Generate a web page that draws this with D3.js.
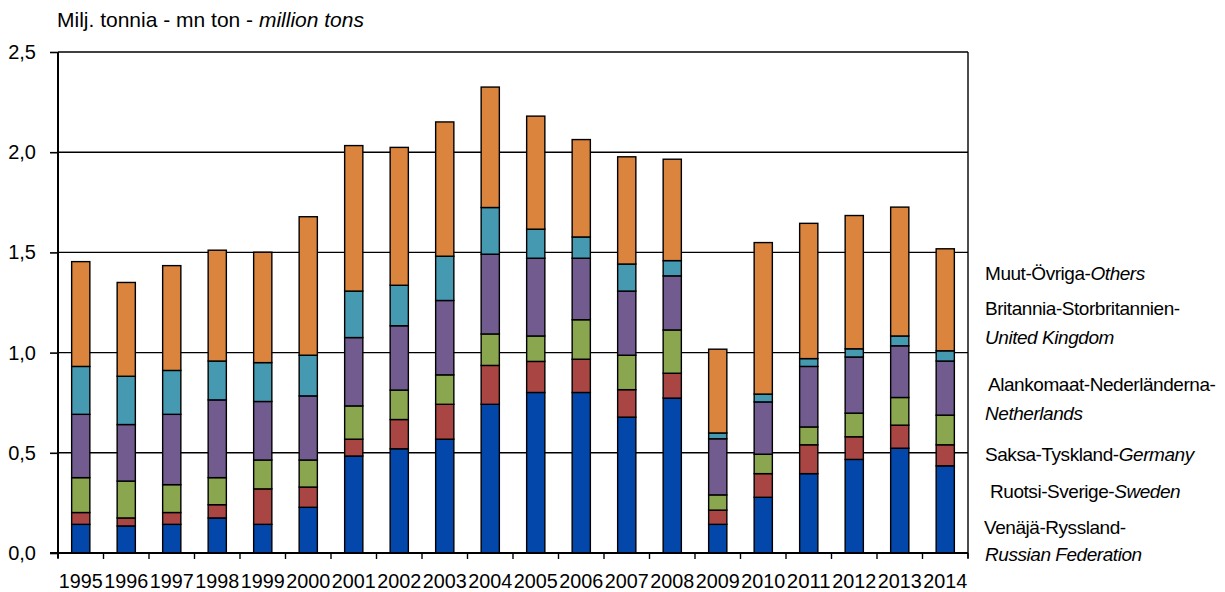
<!DOCTYPE html>
<html>
<head>
<meta charset="utf-8">
<script src="https://cdn.jsdelivr.net/npm/d3@7"></script>
<style>
  body { margin: 0; background: #fff; }
  svg text { font-family: "Liberation Sans", Arial, sans-serif; fill: #000; }
</style>
</head>
<body>
<script>
// data (million tons)
const years = ['1995','1996','1997','1998','1999','2000','2001','2002','2003','2004',
               '2005','2006','2007','2008','2009','2010','2011','2012','2013','2014']
const russia = [0.143,0.135,0.143,0.175,0.143,0.228,0.484,0.520,0.568,0.742,0.801,0.801,0.678,0.773,0.143,0.278,0.396,0.467,0.523,0.435]
const sweden = [0.059,0.040,0.059,0.066,0.177,0.101,0.084,0.146,0.174,0.194,0.155,0.166,0.137,0.124,0.071,0.118,0.144,0.113,0.115,0.105]
const germany = [0.174,0.184,0.139,0.135,0.144,0.135,0.166,0.147,0.147,0.157,0.127,0.197,0.172,0.216,0.076,0.097,0.089,0.118,0.138,0.148]
const netherlands = [0.316,0.282,0.351,0.388,0.292,0.320,0.341,0.321,0.371,0.398,0.388,0.307,0.320,0.270,0.280,0.261,0.302,0.280,0.258,0.270]
const uk = [0.239,0.241,0.219,0.194,0.194,0.203,0.232,0.202,0.221,0.233,0.145,0.106,0.135,0.076,0.029,0.039,0.039,0.041,0.049,0.051]
const others = [0.523,0.468,0.523,0.553,0.551,0.691,0.726,0.688,0.670,0.601,0.564,0.486,0.535,0.506,0.418,0.756,0.675,0.665,0.643,0.509]
const yTicks = [0, 0.5, 1.0, 1.5, 2.0, 2.5]

// stacking order bottom -> top
const keys = ['russia','sweden','germany','netherlands','uk','others']
const colors = ['#0447ab','#a94643','#8aa64e','#715b8f','#4599b0','#db843d']
const seriesData = {russia, sweden, germany, netherlands, uk, others}

// legend texts: [plain part, italic part] per line
const legendLabels = [
    ['Muut-Övriga-', 'Others'],
    ['Britannia-Storbritannien-', ''],
    ['', 'United Kingdom'],
    ['Alankomaat-Nederländerna-', ''],
    ['', 'Netherlands'],
    ['Saksa-Tyskland-', 'Germany'],
    ['Ruotsi-Sverige-', 'Sweden'],
    ['Venäjä-Ryssland-', ''],
    ['', 'Russian Federation']
]
const legendY = [280, 315, 344, 391, 420, 461, 498, 534, 561]
const legendX = [985, 985, 985, 988, 985, 985, 990, 984, 985]

const w = 1225
const h = 592
const m = {left: 58, right: 968, top: 52, bottom: 553}

const svg = d3.select('body')
    .append('svg')
    .attr('width', w)
    .attr('height', h)

const rows = years.map((yr, i) => {
    const r = {year: yr}
    keys.forEach(k => r[k] = seriesData[k][i])
    return r
})
const stacked = d3.stack().keys(keys)(rows)

const x = d3.scaleBand()
    .domain(years)
    .range([m.left, m.right])
    .paddingInner(0.6)
    .paddingOuter(0.3)

const y = d3.scaleLinear()
    .domain([0, 2.5])
    .range([m.bottom, m.top])

const locale = d3.formatLocale({decimal: ',', thousands: ' ', grouping: [3], currency: ['', '']})
const fmt = locale.format('.1f')

// gridlines
svg.append('g')
    .selectAll('line')
    .data(yTicks.filter(d => d > 0))
    .enter()
    .append('line')
    .attr('x1', m.left)
    .attr('x2', m.right)
    .attr('y1', d => y(d))
    .attr('y2', d => y(d))
    .attr('stroke', '#000')
    .attr('stroke-width', 1.4)

// right border
svg.append('line')
    .attr('x1', m.right).attr('x2', m.right)
    .attr('y1', m.top).attr('y2', m.bottom + 5)
    .attr('stroke', '#000')
    .attr('stroke-width', 1.4)

// bars
svg.append('g')
    .selectAll('g')
    .data(stacked)
    .enter()
    .append('g')
    .attr('fill', (d, i) => colors[i])
    .selectAll('rect')
    .data(d => d)
    .enter()
    .append('rect')
    .attr('x', d => x(d.data.year))
    .attr('width', x.bandwidth())
    .attr('y', d => y(d[1]))
    .attr('height', d => y(d[0]) - y(d[1]))
    .attr('stroke', '#000')
    .attr('stroke-width', 1.4)

// y axis
const yAxis = svg.append('g')
    .attr('transform', `translate(${m.left},0)`)
    .call(d3.axisLeft(y).tickValues(yTicks).tickFormat(fmt).tickSize(8).tickPadding(14))
yAxis.select('.domain').attr('stroke-width', 2).attr('d', `M0,${m.top}V${m.bottom + 5}`)
yAxis.selectAll('.tick line').attr('stroke-width', 1.6)
yAxis.selectAll('text').style('font-size', '20px').attr('font-family', null)

// x axis: ticks on band boundaries, labels centered
const step = x.step()
const bounds = years.map(d => x(d) - (step - x.bandwidth()) / 2).concat([m.right])
svg.append('line')
    .attr('x1', m.left - 8).attr('x2', m.right)
    .attr('y1', m.bottom).attr('y2', m.bottom)
    .attr('stroke', '#000')
    .attr('stroke-width', 2.2)
svg.append('g')
    .selectAll('line')
    .data(bounds)
    .enter()
    .append('line')
    .attr('x1', d => d).attr('x2', d => d)
    .attr('y1', m.bottom).attr('y2', m.bottom + 6)
    .attr('stroke', '#000')
    .attr('stroke-width', 1.4)

svg.append('g')
    .selectAll('text')
    .data(years)
    .enter()
    .append('text')
    .attr('x', d => x(d) + x.bandwidth() / 2)
    .attr('y', 588)
    .attr('text-anchor', 'middle')
    .attr('textLength', 44)
    .attr('lengthAdjust', 'spacingAndGlyphs')
    .style('font-size', '20px')
    .text(d => d)

// title
const title = svg.append('text')
    .attr('x', 57)
    .attr('y', 27)
    .style('font-size', '21px')
title.append('tspan').text('Milj. tonnia - mn ton - ')
title.append('tspan').style('font-style', 'italic').text('million  tons')

// legend text on the right
legendLabels.forEach(([plain, ital], i) => {
    const t = svg.append('text')
        .attr('x', legendX[i])
        .attr('y', legendY[i])
        .style('font-size', '19px')
        .style('letter-spacing', '-0.45px')
    if (plain) t.append('tspan').text(plain)
    if (ital) t.append('tspan').style('font-style', 'italic').text(ital)
})
</script>
</body>
</html>
